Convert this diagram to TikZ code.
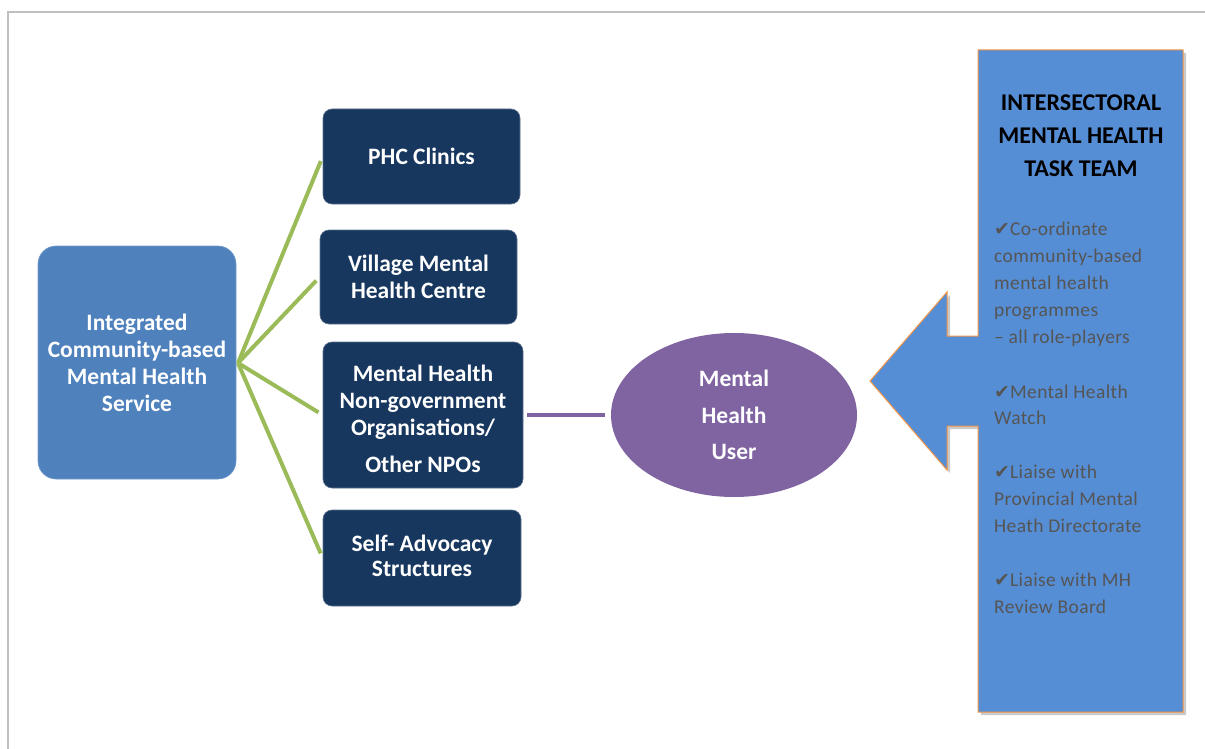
\documentclass[tikz,border=0pt]{standalone}
\usepackage{fontspec}
\setmainfont{Carlito}
\newfontfamily\djv{DejaVu Sans}
\newfontfamily\spaced[LetterSpace=2]{Carlito}
\usetikzlibrary{shadows,shapes.geometric}
\definecolor{navy}{HTML}{17375E}
\definecolor{sblue}{HTML}{4F81BD}
\definecolor{cblue}{HTML}{558ED5}
\definecolor{lgreen}{HTML}{9BBB59}
\definecolor{purp}{HTML}{8064A2}
\definecolor{orng}{HTML}{F79646}
\definecolor{txtgray}{HTML}{555555}
\definecolor{framegray}{HTML}{BFBFBF}
\begin{document}
\begin{tikzpicture}[x=1pt,y=-1pt,
  navybox/.style={rectangle, rounded corners=9pt, fill=navy, draw=navy!70!white, line width=0.6pt,
    text=white, font=\bfseries\fontsize{23.5}{27}\selectfont, align=center, inner sep=0pt},
  boxtext/.style={text=white, font=\bfseries\fontsize{23.5}{27}\selectfont, align=center, inner sep=0pt},
  bigbox/.style={rectangle, rounded corners=18pt, fill=sblue, draw=sblue!80!white, line width=0.6pt,
    text=white, font=\bfseries\fontsize{23.5}{27}\selectfont, align=center, inner sep=0pt,
    minimum width=198pt, minimum height=233pt},
  userell/.style={ellipse, fill=purp, draw=none, text=white,
    font=\bfseries\fontsize{23.5}{36.5}\selectfont, align=center, inner sep=0pt,
    minimum width=246pt, minimum height=164pt},
  greenline/.style={draw=lgreen, line width=4pt},
  purpline/.style={draw=purp, line width=4pt},
  titletext/.style={font=\bfseries\fontsize{24}{33}\selectfont, align=center, text=black},
  bullettext/.style={font=\spaced\fontsize{19.5}{27}\selectfont, text=txtgray, anchor=base west, inner sep=0pt},
]
\useasboundingbox (0,0) rectangle (1205,749);
% frame
\draw[framegray, line width=1.5pt] (8,749) -- (8,12) -- (1205,12);

% left box
\node[bigbox] (icmh) at (137,362.5) {Integrated\\Community-based\\Mental Health\\Service};

% navy boxes
\node[navybox, minimum width=197pt, minimum height=95pt] (phc) at (421.5,156.5) {PHC Clinics};
\node[navybox, minimum width=197pt, minimum height=94pt] (vmhc) at (418.5,277) {Village Mental\\Health Centre};
\node[navybox, minimum width=200pt, minimum height=146pt] (ngo) at (423,415) {};
\node[boxtext] (ngotext) at (423,419) {Mental Health\\Non-government\\Organisations/\\[10pt]Other NPOs};
\node[navybox, minimum width=198pt, minimum height=96pt] (self) at (422,558) {};
\node[boxtext, font=\bfseries\fontsize{23.5}{25}\selectfont] (selftext) at (422,555.5) {Self- Advocacy\\Structures};

% user ellipse
\node[userell] (user) at (734,415) {Mental\\Health\\User};

% green connectors
\coordinate (hub) at (238,363);
\draw[greenline, shorten >=5pt] (hub) -- (phc.west);
\draw[greenline, shorten >=5pt] (hub) -- (vmhc.west);
\draw[greenline, shorten >=5pt] (hub) -- (ngo.west);
\draw[greenline, shorten >=5pt] (hub) -- (self.west);

% purple connector
\draw[purpline, shorten <=4pt, shorten >=6pt] (ngo.east) -- (user.west);

% callout
\path[fill=cblue, draw=orng, line width=1pt, drop shadow={shadow xshift=3pt, shadow yshift=-3pt, opacity=0.35, fill=black!60}]
  (978,50) -- (1183,50) -- (1183,712) -- (978,712) -- (978,426) -- (947,426) -- (947,470)
  -- (870,381) -- (947,292) -- (947,336) -- (978,336) -- cycle;

\node[titletext] (title) at (1081,136) {INTERSECTORAL\\MENTAL HEALTH\\TASK TEAM};

\newcommand{\chk}{{\djv\fontsize{19}{19}\selectfont ✔}}
\node[bullettext] (b1) at (994,235) {\chk Co-ordinate};
\node[bullettext] (b2) at (994,262) {community-based};
\node[bullettext] (b3) at (994,289) {mental health};
\node[bullettext] (b4) at (994,316) {programmes};
\node[bullettext] (b5) at (994,343) {– all role-players};
\node[bullettext] (b6) at (994,398) {\chk Mental Health};
\node[bullettext] (b7) at (994,424) {Watch};
\node[bullettext] (b8) at (994,478) {\chk Liaise with};
\node[bullettext] (b9) at (994,505) {Provincial Mental};
\node[bullettext] (b10) at (994,532) {Heath Directorate};
\node[bullettext] (b11) at (994,586) {\chk Liaise with MH};
\node[bullettext] (b12) at (994,613) {Review Board};
\end{tikzpicture}
\end{document}
